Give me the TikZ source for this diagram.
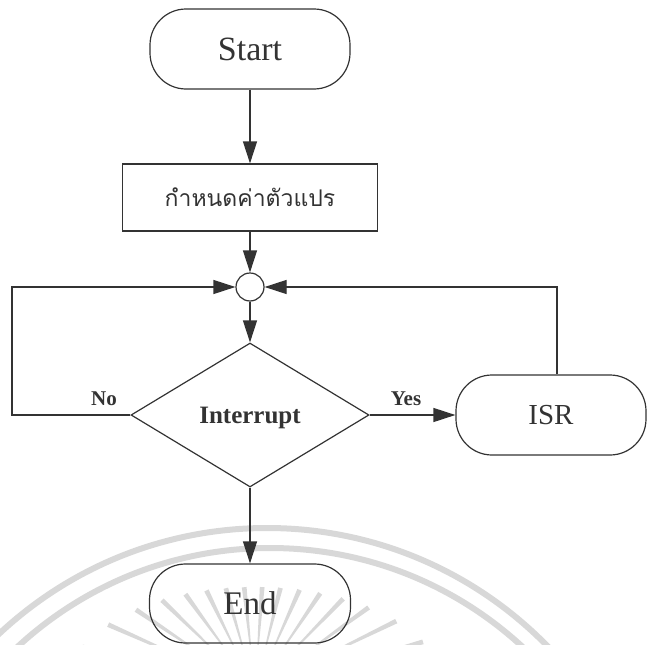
\documentclass[tikz,border=0pt]{standalone}
\usepackage{fontspec}
\setmainfont{Liberation Serif}
\newfontfamily\thaifont[Script=Thai]{Loma}
\usetikzlibrary{shapes.geometric,arrows.meta}
\definecolor{ink}{HTML}{333333}
\definecolor{seal}{HTML}{D8D8D8}
\begin{document}
\begin{tikzpicture}[x=1pt,y=-1pt]
\tikzset{
  flow/.style={draw=ink, line width=1.2pt},
  term/.style={flow, rectangle, rounded corners=36pt, minimum height=80pt,
    inner sep=0pt, text depth=0pt, text=ink},
  procbox/.style={flow, rectangle, minimum width=255pt, minimum height=67pt,
    inner sep=0pt, text depth=0pt, text=ink},
  joint/.style={flow, circle, minimum size=28pt, inner sep=0pt},
  decision/.style={flow, diamond, minimum width=238pt, minimum height=144pt,
    inner sep=0pt, text depth=0pt, text=ink},
  lbl/.style={anchor=base, inner sep=0pt, text=ink,
    font=\fontsize{21}{24}\selectfont\bfseries},
  arrow/.style={flow, -{Triangle[length=22pt,width=14pt]}},
}
\useasboundingbox (0,0) rectangle (648,645);

% faint seal in the background: two rings and a fan of rays
\begin{scope}
  \clip (0,0) rectangle (648,645);
  \draw[seal, line width=6pt] (267,920) circle[radius=392];
  \draw[seal, line width=6pt] (270,920) circle[radius=372];
  \foreach \a in {16,26,...,166} {
    % outer ends of the rays lie on an ellipse (semi-axes 190 and 103)
    \pgfmathsetmacro\ro{100/sqrt((cos(\a)/1.90)^2+(sin(\a)/1.03)^2)}
    \pgfmathsetmacro\ri{0.4*\ro}
    \pgfmathsetmacro\wo{2.4/\ro*57.3}
    \pgfmathsetmacro\wi{0.6/\ri*57.3}
    \fill[seal]
      ({255+\ri*cos(\a-\wi)},{690-\ri*sin(\a-\wi)}) --
      ({255+\ri*cos(\a+\wi)},{690-\ri*sin(\a+\wi)}) --
      ({255+\ro*cos(\a+\wo)},{690-\ro*sin(\a+\wo)}) --
      ({255+\ro*cos(\a-\wo)},{690-\ro*sin(\a-\wo)}) -- cycle;
  }
\end{scope}

% nodes
\node[term, minimum width=200pt, font=\fontsize{34}{40}\selectfont] (start) at (250,49) {Start};
\node[procbox, font=\thaifont\fontsize{23}{27}\selectfont] (init) at (250,197.5) {กำหนดค่าตัวแปร};
\node[joint] (merge) at (250,287) {};
\node[decision, font=\fontsize{25}{30}\selectfont\bfseries] (intr) at (250,415) {Interrupt};
\node[term, minimum width=190pt, font=\fontsize{29}{34}\selectfont] (isr) at (551,415) {ISR};
\node[term, minimum width=201pt, minimum height=79pt, font=\fontsize{33}{38}\selectfont] (fin) at (250,603.5) {End};

\node[lbl] (nolbl) at (104,405) {No};
\node[lbl] (yeslbl) at (406,405) {Yes};

\coordinate (lk) at (12,415);
\coordinate (rk) at (557,287);

% connectors
\draw[arrow] (start) -- (init);
\draw[arrow] (init) -- (merge);
\draw[arrow] (merge) -- (intr);
\draw[arrow] (intr.west) -- (lk) |- (merge.west);
\draw[arrow] (intr.east) -- (isr.west);
\draw[arrow] (isr.north -| rk) -- (rk) -- (merge.east);
\draw[arrow] (intr.south) -- (fin.north);
\end{tikzpicture}
\end{document}
